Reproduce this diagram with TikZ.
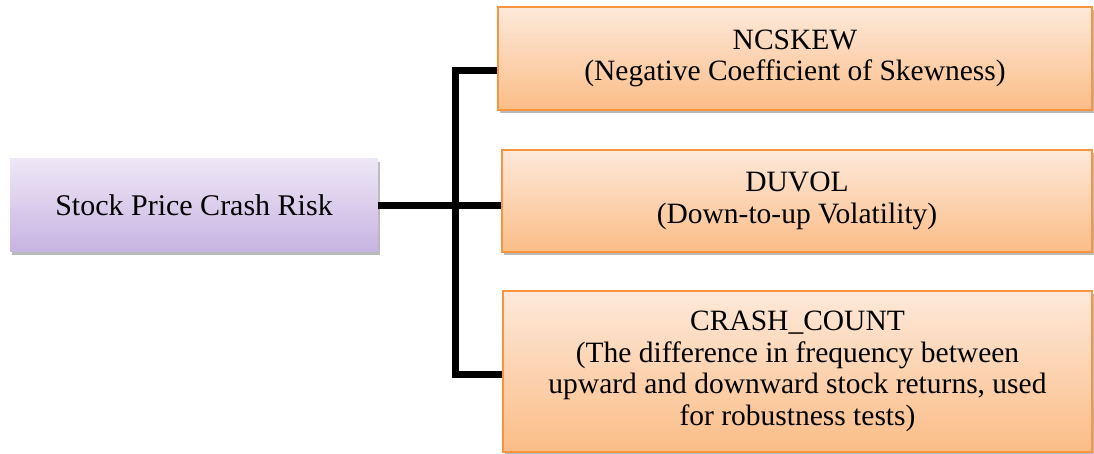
\documentclass[tikz,border=0pt]{standalone}
\usepackage{fontspec}
\setmainfont{Liberation Serif}
\usetikzlibrary{shadows}
\definecolor{purpTop}{HTML}{EEE7F6}
\definecolor{purpBot}{HTML}{C7B3E2}
\definecolor{orTop}{HTML}{FDE9DA}
\definecolor{orBot}{HTML}{FBBD87}
\definecolor{orEdge}{HTML}{F7953F}
\tikzset{
  rootbox/.style={rectangle, top color=purpTop, bottom color=purpBot, draw=none,
    drop shadow={shadow xshift=2pt, shadow yshift=-3pt, fill=black!45, opacity=0.6},
    align=center, font=\fontsize{30}{31.5}\selectfont, inner sep=0pt},
  leafbox/.style={rectangle, top color=orTop, bottom color=orBot, draw=orEdge, line width=1.5pt,
    drop shadow={shadow xshift=2pt, shadow yshift=-3pt, fill=black!45, opacity=0.6},
    align=center, font=\fontsize{29.5}{31.5}\selectfont, inner sep=0pt},
  conn/.style={line width=7pt, black, line join=miter}
}
\begin{document}
\begin{tikzpicture}[x=1pt,y=-1pt]
\useasboundingbox (0,0) rectangle (1094,454);
\node[rootbox, minimum width=368pt, minimum height=93pt] (L) at (194,205.5) {Stock Price Crash Risk};
\node[leafbox, minimum width=594pt, minimum height=103pt] (B1) at (795,58.5) {NCSKEW\\(Negative Coefficient of Skewness)};
\node[leafbox, minimum width=590pt, minimum height=102pt] (B2) at (797,201) {DUVOL\\(Down-to-up Volatility)};
\node[leafbox, minimum width=589pt, minimum height=161pt] (B3) at (797.5,371.5) {CRASH\_COUNT\\(The difference in frequency between\\upward and downward stock returns, used\\for robustness tests)};
\coordinate (t) at (455,71);
\coordinate (b) at (455,374);
\begin{scope}[on background layer/.try]
\draw[conn] (L.east) -- (L.east -| B2.west);
\draw[conn] (t -| B1.west) -- (t) -- (b) -- (b -| B3.west);
\end{scope}
\end{tikzpicture}
\end{document}
